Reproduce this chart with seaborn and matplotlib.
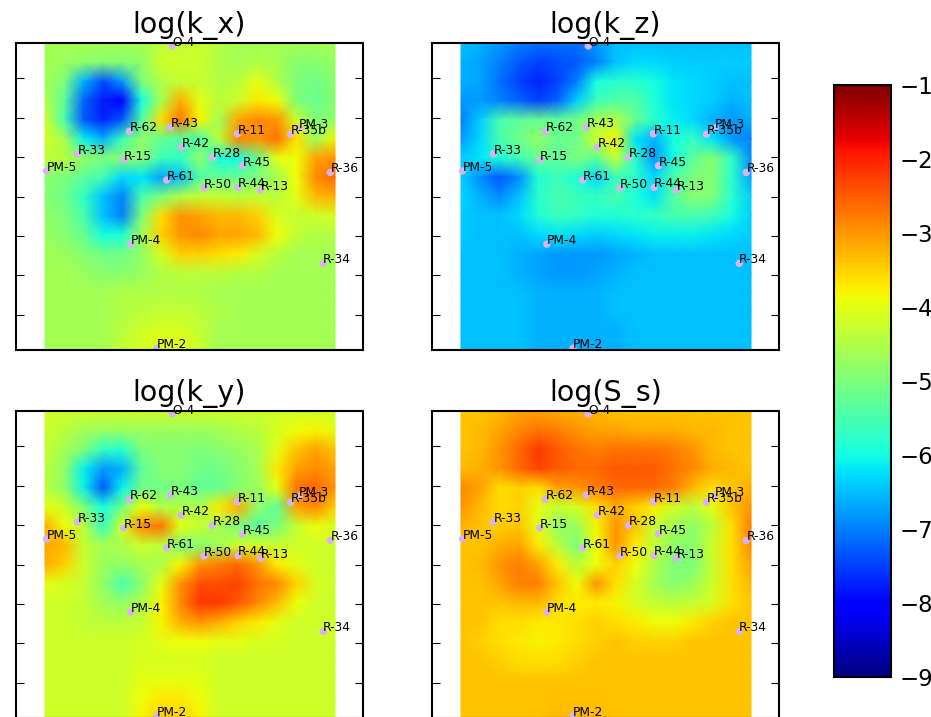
import matplotlib
matplotlib.use("Agg")
import matplotlib.pyplot as plt
from matplotlib.transforms import Affine2D
import numpy as np
import pandas as pd
import seaborn as sns

titles = ["log(k_x)", "log(k_z)", "log(k_y)", "log(S_s)"]
station_names = ["O-4", "R-43", "R-62", "R-11", "R-35b", "PM-3", "R-42", "R-33", "R-15", "R-28",
                 "R-45", "PM-5", "R-36", "R-61", "R-50", "R-44", "R-13", "PM-4", "R-34", "PM-2"]
station_x = [3.12, 3.07, 2.03, 4.77, 6.12, 6.34, 3.35, 0.71, 1.89, 4.14,
             4.90, -0.07, 7.13, 2.98, 3.93, 4.79, 5.36, 2.07, 6.95, 2.73]
station_y = [0.18, 2.24, 2.35, 2.41, 2.42, 2.26, 2.75, 2.92, 3.07, 3.01,
             3.22, 3.35, 3.39, 3.58, 3.78, 3.77, 3.84, 5.21, 5.70, 7.85]
cbar_ticks = [-9, -8, -7, -6, -5, -4, -3, -2, -1]

k_x = [
 [-4.6,-4.6,-4.6,-4.6,-4.6,-4.6,-4.4,-4.3,-4.3,-4.5,-4.6,-4.6,-4.6,-4.6,-4.6,-4.6],
 [-4.6,-4.7,-4.8,-4.9,-4.9,-4.8,-4.2,-4.2,-4.2,-4.5,-4.6,-4.5,-4.6,-4.9,-4.9,-4.7],
 [-4.6,-5.0,-6.6,-7.4,-6.8,-5.0,-4.5,-4.3,-4.3,-4.5,-4.4,-4.0,-4.5,-5.0,-5.1,-4.8],
 [-4.5,-5.3,-7.2,-7.8,-8.0,-6.0,-4.6,-3.2,-4.0,-4.4,-4.2,-3.7,-3.9,-5.0,-5.2,-4.9],
 [-4.2,-5.5,-7.3,-7.7,-7.3,-5.4,-3.6,-2.7,-3.8,-4.6,-3.1,-2.9,-3.0,-4.2,-5.0,-4.8],
 [-4.1,-4.6,-6.1,-6.6,-5.6,-4.8,-5.2,-5.4,-5.5,-4.4,-2.9,-3.0,-2.7,-3.6,-4.7,-3.8],
 [-4.4,-4.4,-4.8,-5.0,-4.9,-4.9,-5.6,-5.7,-4.8,-6.0,-6.0,-5.2,-4.0,-3.9,-3.1,-3.0],
 [-4.9,-5.0,-5.3,-5.6,-6.3,-6.2,-6.7,-6.5,-5.4,-5.2,-5.2,-5.0,-4.6,-3.9,-2.9,-2.6],
 [-4.9,-5.1,-5.7,-6.5,-7.0,-5.5,-5.0,-4.5,-4.3,-4.3,-4.4,-4.3,-4.4,-4.0,-3.3,-3.2],
 [-4.8,-5.0,-5.5,-6.5,-7.0,-5.0,-3.6,-3.0,-3.1,-3.3,-3.3,-3.5,-4.1,-4.3,-4.2,-4.1],
 [-4.7,-4.9,-5.2,-6.0,-5.9,-4.6,-3.5,-3.0,-2.9,-3.1,-3.1,-3.3,-3.9,-4.3,-4.5,-4.5],
 [-4.6,-4.7,-4.9,-5.1,-5.1,-4.8,-4.1,-3.5,-3.5,-3.6,-3.7,-4.1,-4.4,-4.6,-4.6,-4.6],
 [-4.6,-4.6,-4.7,-4.9,-4.9,-4.7,-4.5,-4.4,-4.4,-4.4,-4.5,-4.5,-4.6,-4.6,-4.6,-4.6],
 [-4.6,-4.6,-4.6,-4.6,-4.5,-4.5,-4.5,-4.5,-4.5,-4.6,-4.6,-4.6,-4.6,-4.6,-4.6,-4.6],
 [-4.6,-4.6,-4.6,-4.6,-4.5,-4.4,-4.3,-4.3,-4.4,-4.5,-4.6,-4.6,-4.6,-4.6,-4.6,-4.6],
 [-4.6,-4.6,-4.6,-4.6,-4.4,-4.2,-4.1,-4.1,-4.3,-4.6,-4.6,-4.6,-4.6,-4.6,-4.6,-4.6],
 [-4.6,-4.6,-4.6,-4.6,-4.3,-4.1,-4.0,-4.0,-4.2,-4.6,-4.6,-4.6,-4.6,-4.6,-4.6,-4.6],
]
k_z = [
 [-6.5,-6.6,-6.8,-7.0,-7.1,-7.1,-7.1,-6.8,-6.5,-6.5,-6.5,-6.5,-6.5,-6.5,-6.5,-6.5],
 [-6.6,-6.7,-7.0,-7.3,-7.5,-7.4,-7.3,-7.0,-6.5,-6.3,-6.3,-6.4,-6.4,-6.4,-6.4,-6.4],
 [-6.6,-6.7,-7.1,-7.5,-7.7,-7.5,-7.0,-6.0,-5.8,-5.8,-6.0,-6.2,-6.3,-6.4,-6.5,-6.5],
 [-6.8,-6.8,-7.0,-7.2,-7.5,-7.2,-6.4,-5.6,-5.4,-5.4,-5.9,-6.2,-6.3,-6.4,-6.6,-6.5],
 [-7.0,-6.4,-5.5,-5.3,-5.2,-5.3,-5.1,-4.6,-4.5,-5.2,-5.8,-6.1,-6.3,-6.6,-6.8,-6.6],
 [-6.8,-6.3,-5.5,-5.1,-4.8,-5.2,-5.1,-4.2,-3.8,-6.2,-6.6,-6.0,-5.7,-6.2,-6.8,-7.0],
 [-6.4,-6.2,-5.9,-5.6,-5.2,-5.3,-5.0,-5.3,-4.3,-5.8,-6.8,-6.0,-5.3,-4.9,-5.7,-6.9],
 [-6.4,-6.9,-7.3,-6.9,-5.9,-5.6,-5.9,-6.3,-5.6,-5.8,-6.3,-5.5,-5.0,-4.9,-5.8,-6.7],
 [-6.3,-6.6,-6.9,-6.5,-5.8,-5.5,-5.6,-5.7,-5.5,-5.9,-6.2,-5.4,-4.9,-5.0,-5.8,-6.4],
 [-6.4,-6.5,-6.5,-6.3,-5.9,-5.6,-5.7,-5.9,-5.9,-5.8,-5.7,-5.5,-5.5,-5.6,-6.0,-6.4],
 [-6.4,-6.5,-6.5,-6.5,-6.3,-6.2,-6.3,-6.4,-6.3,-6.2,-6.1,-6.1,-6.1,-6.2,-6.3,-6.4],
 [-6.5,-6.5,-6.5,-6.6,-6.7,-6.8,-6.8,-6.8,-6.7,-6.6,-6.5,-6.5,-6.5,-6.5,-6.5,-6.5],
 [-6.5,-6.5,-6.5,-6.6,-6.7,-6.8,-6.8,-6.7,-6.6,-6.5,-6.5,-6.5,-6.5,-6.5,-6.5,-6.5],
 [-6.5,-6.5,-6.5,-6.5,-6.6,-6.6,-6.6,-6.6,-6.5,-6.5,-6.5,-6.5,-6.5,-6.5,-6.5,-6.5],
 [-6.5,-6.5,-6.5,-6.5,-6.6,-6.6,-6.6,-6.6,-6.5,-6.5,-6.5,-6.5,-6.5,-6.5,-6.5,-6.5],
 [-6.5,-6.5,-6.5,-6.5,-6.6,-6.6,-6.6,-6.6,-6.6,-6.5,-6.5,-6.5,-6.5,-6.5,-6.5,-6.5],
 [-6.5,-6.5,-6.5,-6.5,-6.6,-6.6,-6.6,-6.6,-6.6,-6.5,-6.5,-6.5,-6.5,-6.5,-6.5,-6.5],
]
k_y = [
 [-4.2,-4.2,-4.2,-4.2,-4.2,-4.2,-4.2,-4.2,-4.2,-4.2,-4.2,-4.2,-4.2,-4.2,-4.2,-4.2],
 [-4.2,-4.4,-4.6,-4.7,-4.7,-4.7,-4.7,-4.7,-4.7,-4.6,-4.5,-4.4,-4.1,-3.9,-3.8,-4.0],
 [-4.3,-4.6,-5.0,-5.7,-5.8,-5.0,-4.9,-4.9,-5.0,-4.9,-4.7,-4.6,-4.0,-3.4,-3.1,-3.4],
 [-4.4,-4.8,-6.1,-6.8,-6.6,-5.3,-4.9,-4.9,-5.1,-5.1,-4.9,-4.6,-3.7,-3.1,-2.9,-3.1],
 [-4.4,-4.8,-6.1,-7.3,-6.1,-5.1,-5.1,-5.0,-5.3,-5.2,-4.9,-4.7,-4.0,-2.7,-2.6,-3.0],
 [-4.0,-4.2,-5.0,-6.0,-5.1,-3.9,-4.5,-4.5,-4.5,-3.7,-3.2,-4.8,-5.3,-3.1,-2.9,-3.5],
 [-3.2,-3.9,-4.4,-5.7,-4.1,-2.9,-2.7,-4.0,-4.3,-4.6,-5.0,-5.4,-5.0,-4.3,-3.9,-4.1],
 [-3.1,-3.3,-4.3,-4.6,-4.5,-4.2,-4.4,-5.0,-4.9,-4.6,-4.2,-4.1,-4.3,-4.2,-4.2,-4.2],
 [-3.2,-3.5,-4.2,-4.7,-4.8,-4.6,-4.5,-3.8,-3.0,-2.8,-2.6,-3.0,-3.7,-4.0,-4.2,-4.2],
 [-4.0,-4.1,-4.3,-4.8,-5.5,-4.9,-4.0,-3.0,-2.4,-2.4,-2.3,-2.7,-2.9,-3.5,-4.1,-4.2],
 [-4.2,-4.2,-4.3,-4.6,-4.8,-4.5,-3.8,-2.9,-2.2,-2.2,-2.5,-2.9,-3.3,-3.9,-4.2,-4.2],
 [-4.2,-4.2,-4.3,-4.4,-4.4,-4.3,-3.8,-3.2,-3.0,-3.2,-3.5,-3.7,-4.0,-4.2,-4.2,-4.2],
 [-4.2,-4.2,-4.2,-4.2,-4.2,-4.1,-4.0,-3.9,-3.9,-4.0,-4.0,-4.1,-4.1,-4.2,-4.2,-4.2],
 [-4.2,-4.2,-4.2,-4.2,-4.2,-4.1,-4.1,-4.1,-4.1,-4.2,-4.2,-4.2,-4.2,-4.2,-4.2,-4.2],
 [-4.2,-4.2,-4.2,-4.2,-4.2,-4.0,-4.0,-4.0,-4.0,-4.2,-4.2,-4.2,-4.2,-4.2,-4.2,-4.2],
 [-4.2,-4.2,-4.2,-4.2,-4.2,-3.9,-3.7,-3.7,-3.9,-4.2,-4.2,-4.2,-4.2,-4.2,-4.2,-4.2],
 [-4.2,-4.2,-4.2,-4.2,-4.2,-3.8,-3.5,-3.5,-3.8,-4.2,-4.2,-4.2,-4.2,-4.2,-4.2,-4.2],
]
s_s = [
 [-3.4,-3.4,-3.3,-3.1,-3.1,-3.2,-3.2,-3.3,-3.4,-3.4,-3.4,-3.4,-3.4,-3.4,-3.4,-3.4],
 [-3.4,-3.3,-3.1,-2.9,-2.7,-2.8,-3.0,-3.1,-3.1,-3.2,-3.2,-3.2,-3.3,-3.3,-3.4,-3.4],
 [-3.4,-3.3,-3.0,-2.6,-2.2,-2.5,-2.7,-2.8,-2.7,-2.7,-2.7,-2.8,-3.0,-3.3,-3.4,-3.4],
 [-3.3,-3.2,-3.0,-2.6,-2.3,-2.5,-2.6,-2.6,-2.5,-2.5,-2.5,-2.7,-2.9,-3.2,-3.3,-3.4],
 [-2.9,-3.1,-3.6,-3.5,-3.6,-3.1,-3.0,-2.8,-2.6,-2.6,-2.6,-2.8,-3.3,-3.6,-3.4,-3.2],
 [-3.0,-3.3,-3.6,-3.5,-4.0,-4.3,-4.1,-3.6,-3.2,-3.5,-3.7,-4.2,-4.4,-4.0,-3.4,-3.0],
 [-3.2,-3.4,-3.5,-3.4,-4.0,-4.8,-4.7,-3.8,-3.0,-3.4,-4.3,-4.6,-4.8,-4.4,-3.6,-2.8],
 [-3.4,-3.4,-3.2,-3.1,-3.7,-4.4,-5.0,-3.9,-3.0,-3.7,-4.3,-4.8,-4.9,-4.2,-3.6,-2.9],
 [-3.4,-3.3,-3.0,-2.8,-3.1,-3.7,-4.4,-3.9,-3.5,-3.9,-4.5,-5.0,-5.0,-4.3,-3.6,-3.1],
 [-3.4,-3.4,-3.1,-2.8,-2.8,-3.4,-3.9,-3.0,-3.6,-4.1,-4.6,-4.9,-4.7,-4.2,-3.6,-3.3],
 [-3.4,-3.4,-3.4,-3.3,-3.3,-3.6,-3.7,-3.7,-3.8,-4.1,-4.3,-4.4,-4.3,-4.1,-3.6,-3.4],
 [-3.4,-3.4,-3.6,-3.6,-3.7,-3.7,-3.6,-3.5,-3.6,-3.7,-3.9,-3.9,-3.7,-3.5,-3.4,-3.4],
 [-3.4,-3.5,-3.6,-3.7,-3.8,-3.7,-3.6,-3.5,-3.4,-3.5,-3.5,-3.5,-3.4,-3.4,-3.4,-3.4],
 [-3.4,-3.4,-3.5,-3.6,-3.6,-3.6,-3.5,-3.4,-3.4,-3.4,-3.4,-3.4,-3.4,-3.4,-3.4,-3.4],
 [-3.4,-3.4,-3.4,-3.4,-3.4,-3.4,-3.4,-3.4,-3.4,-3.4,-3.4,-3.4,-3.4,-3.4,-3.4,-3.4],
 [-3.4,-3.4,-3.4,-3.4,-3.4,-3.35,-3.35,-3.35,-3.4,-3.4,-3.4,-3.4,-3.4,-3.4,-3.4,-3.4],
 [-3.4,-3.4,-3.4,-3.4,-3.4,-3.3,-3.3,-3.3,-3.4,-3.4,-3.4,-3.4,-3.4,-3.4,-3.4,-3.4],
]
panels = [k_x, k_z, k_y, s_s]

W, H = 931, 717
sns.set_theme(style="ticks", rc={"axes.linewidth": 1.5, "xtick.direction": "in", "ytick.direction": "in",
                                 "axes.edgecolor": "black", "text.color": "black"})
plt.rcParams["font.family"] = ["DejaVu Sans"]
fig = plt.figure(figsize=(W / 100, H / 100), dpi=100)

def px_axes(x0, y0, x1, y1):
    return fig.add_axes([x0 / W, 1 - y1 / H, (x1 - x0) / W, (y1 - y0) / H])

boxes = [(16, 43, 363, 350), (432, 43, 779, 350), (16, 411, 363, 718), (432, 411, 779, 718)]
mesh = None
for title, values, box in zip(titles, panels, boxes):
    ax = px_axes(*box)
    frame = pd.DataFrame(values)
    sns.heatmap(frame, ax=ax, cmap="jet", vmin=-9, vmax=-1, cbar=False,
                xticklabels=False, yticklabels=False, shading="gouraud")
    mesh = ax.collections[0]
    nrow, ncol = frame.shape
    mesh.set_transform(Affine2D().scale(7.36 / (ncol - 1), 7.792 / (nrow - 1)).translate(-0.109, 0.104) + ax.transData)
    ax.set_xlim(-0.845, 7.96)
    ax.set_ylim(7.896, 0.104)
    ax.set_xticks(range(0, 8))
    ax.set_yticks(range(1, 8))
    ax.tick_params(top=True, right=True, left=True, bottom=True, labelleft=False, labelbottom=False,
                   length=5.5, width=0.8, color="black")
    for s in ax.spines.values():
        s.set_visible(True)
        s.set_linewidth(1.5)
        s.set_color("black")
    ax.set_title(title, fontsize=20.5, pad=7.5, color="black")
    sns.scatterplot(x=station_x, y=station_y, ax=ax, s=28, color="#d9b3f0", edgecolor="none", zorder=1.5, legend=False)
    for name, sx, sy in zip(station_names, station_x, station_y):
        ax.text(sx, sy, name, fontsize=8.8, ha="left", va="baseline", color="black", zorder=2, clip_on=False)

cax = px_axes(834, 85, 891, 677)
cb = fig.colorbar(mesh, cax=cax)
cb.set_ticks(cbar_ticks)
cax.tick_params(axis="y", direction="in", right=True, length=5.5, width=0.8, labelsize=16.5, pad=6, color="black", labelcolor="black")
cb.outline.set_linewidth(1.5)
cb.outline.set_edgecolor("black")
fig.savefig("out.png", dpi=100)
